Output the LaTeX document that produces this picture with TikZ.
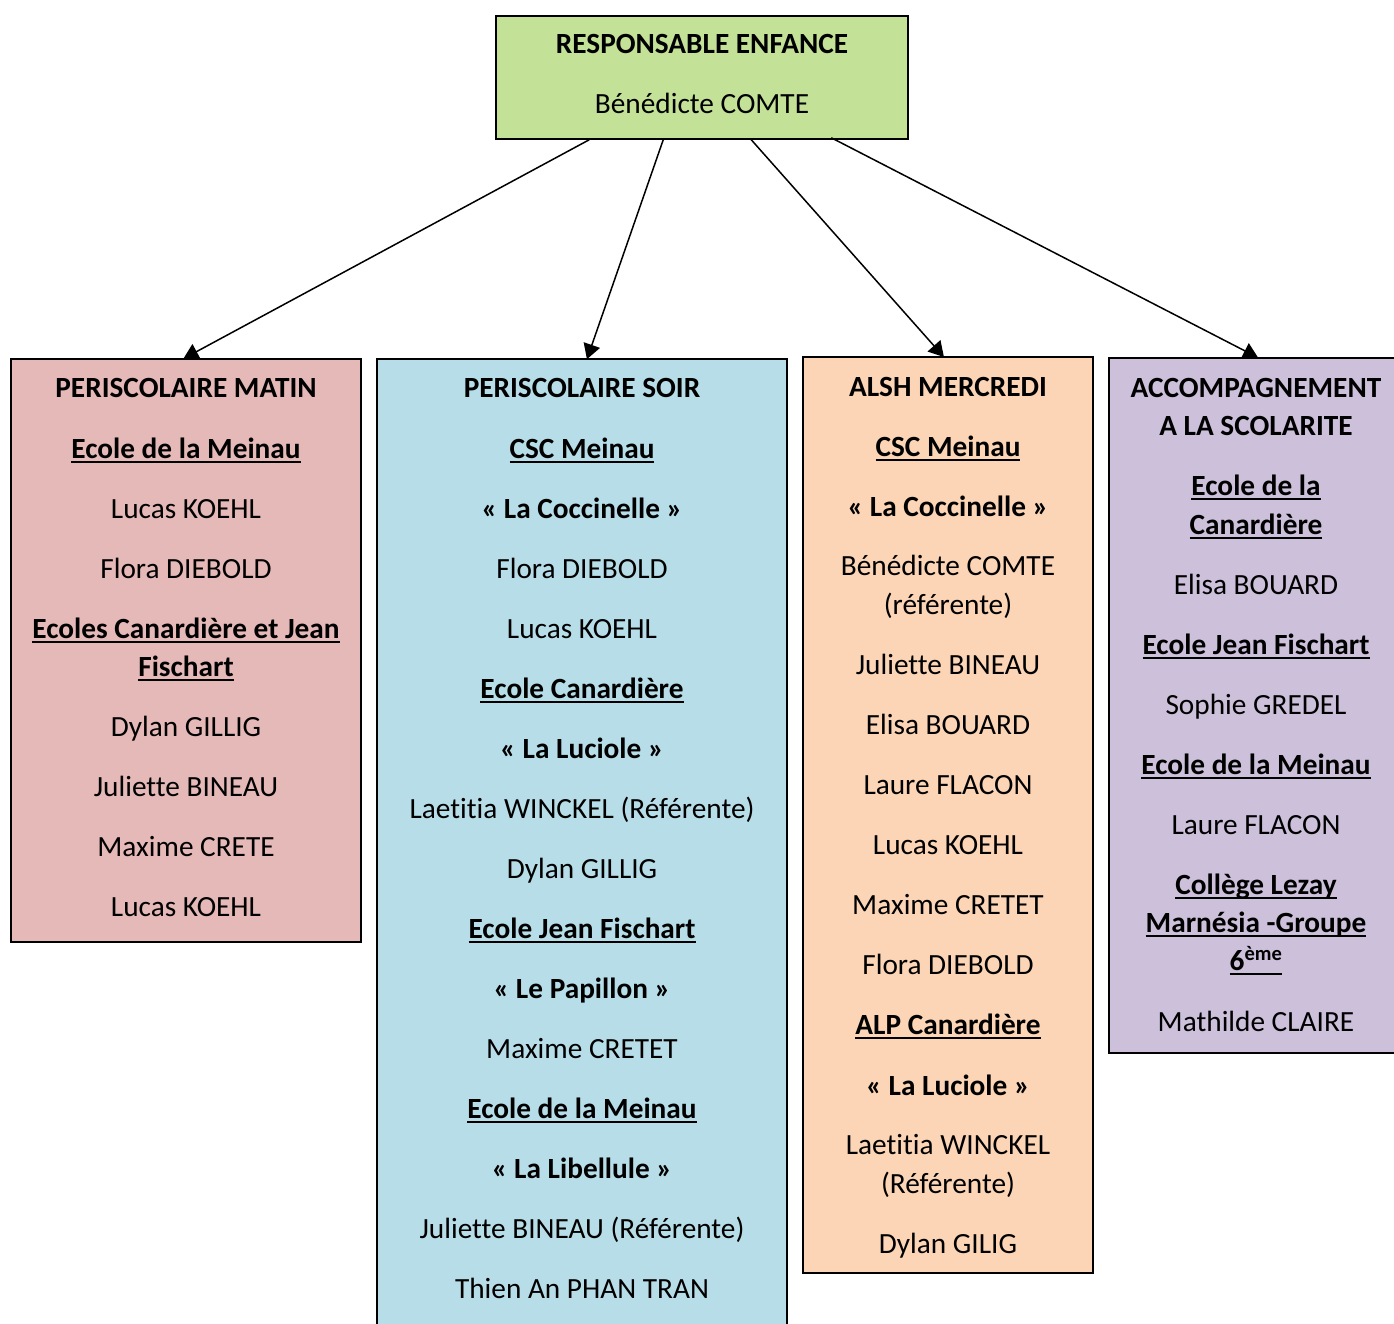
\documentclass[tikz,border=0pt]{standalone}
\usepackage{fontspec}
\setmainfont{Carlito}[Ligatures=NoCommon]
\usetikzlibrary{arrows.meta,calc}
\definecolor{cgreen}{RGB}{195,226,152}
\definecolor{cpink}{RGB}{229,185,183}
\definecolor{cblue}{RGB}{183,222,232}
\definecolor{corange}{RGB}{251,213,181}
\definecolor{cviolet}{RGB}{204,192,218}
\newcommand{\fs}{\fontsize{29.3}{34}\selectfont}
\newcommand{\bu}[1]{{\bfseries\setbox0\hbox{#1}\rlap{\rule[-4.5pt]{\wd0}{1.7pt}}\box0}}
\tikzset{
  box/.style={draw=black, line width=1.5pt, rectangle, inner sep=0pt},
  txt/.style={font=\fs, anchor=base, inner sep=0pt},
  arr/.style={line width=1.5pt, -{Triangle[length=15pt,width=17pt]}, shorten >=-1pt}
}
\begin{document}
\begin{tikzpicture}[x=1pt,y=-1pt]
\useasboundingbox (0,0) rectangle (1394,1324);
\fill[white] (0,0) rectangle (1394,1324);
% boxes
\node[box, fill=cgreen, minimum width=412pt, minimum height=123pt] (top) at (702,77.5) {};
\node[box, fill=cpink, minimum width=350pt, minimum height=583pt] (matin) at (186,650.5) {};
\node[box, fill=cblue, minimum width=410pt, minimum height=981pt] (soir) at (582,849.5) {};
\node[box, fill=corange, minimum width=290pt, minimum height=916pt] (alsh) at (948,815) {};
\node[box, fill=cviolet, minimum width=291pt, minimum height=695pt] (acc) at (1254.5,705.5) {};
% arrows
\draw[arr] ($(top.south west)+(94,0)$) -- ($(matin.north west)+(174,0)$);
\draw[arr] ($(top.south west)+(168,0)$) -- ($(soir.north west)+(211,0)$);
\draw[arr] ($(top.south west)+(256,0)$) -- ($(alsh.north west)+(141,0)$);
\draw[arr] ($(top.south west)+(336,-2)$) -- ($(acc.north west)+(149,0)$);
% top
\node[txt] (t1) at (702,54) {\textbf{RESPONSABLE ENFANCE}};
\node[txt] (t2) at (702,114) {Bénédicte COMTE};
% matin
\node[txt] (m1) at (186,397) {\textbf{PERISCOLAIRE MATIN}};
\node[txt] (m2) at (186,458) {\bu{Ecole de la Meinau}};
\node[txt] (m3) at (186,518) {Lucas KOEHL};
\node[txt] (m4) at (186,578) {Flora DIEBOLD};
\node[txt] (m5) at (186,638) {\bu{Ecoles Canardière et Jean}};
\node[txt] (m6) at (186,676) {\bu{Fischart}};
\node[txt] (m7) at (186,736) {Dylan GILLIG};
\node[txt] (m8) at (186,796) {Juliette BINEAU};
\node[txt] (m9) at (186,856) {Maxime CRETE};
\node[txt] (m10) at (186,916) {Lucas KOEHL};
% soir
\node[txt] (s1) at (582,397) {\textbf{PERISCOLAIRE SOIR}};
\node[txt] (s2) at (582,458) {\bu{CSC Meinau}};
\node[txt] (s3) at (582,518) {\textbf{« La Coccinelle »}};
\node[txt] (s4) at (582,578) {Flora DIEBOLD};
\node[txt] (s5) at (582,638) {Lucas KOEHL};
\node[txt] (s6) at (582,698) {\bu{Ecole Canardière}};
\node[txt] (s7) at (582,758) {\textbf{« La Luciole »}};
\node[txt] (s8) at (582,818) {Laetitia WINCKEL (Référente)};
\node[txt] (s9) at (582,878) {Dylan GILLIG};
\node[txt] (s10) at (582,938) {\bu{Ecole Jean Fischart}};
\node[txt] (s11) at (582,998) {\textbf{« Le Papillon »}};
\node[txt] (s12) at (582,1058) {Maxime CRETET};
\node[txt] (s13) at (582,1118) {\bu{Ecole de la Meinau}};
\node[txt] (s14) at (582,1178) {\textbf{« La Libellule »}};
\node[txt] (s15) at (582,1238) {Juliette BINEAU (Référente)};
\node[txt] (s16) at (582,1298) {Thien An PHAN TRAN};
% alsh
\node[txt] (a1) at (948,396) {\textbf{ALSH MERCREDI}};
\node[txt] (a2) at (948,456) {\bu{CSC Meinau}};
\node[txt] (a3) at (948,516) {\textbf{« La Coccinelle »}};
\node[txt] (a4) at (948,575) {Bénédicte COMTE};
\node[txt] (a5) at (948,614) {(référente)};
\node[txt] (a6) at (948,674) {Juliette BINEAU};
\node[txt] (a7) at (948,734) {Elisa BOUARD};
\node[txt] (a8) at (948,794) {Laure FLACON};
\node[txt] (a9) at (948,854) {Lucas KOEHL};
\node[txt] (a10) at (948,914) {Maxime CRETET};
\node[txt] (a11) at (948,974) {Flora DIEBOLD};
\node[txt] (a12) at (948,1034) {\bu{ALP Canardière}};
\node[txt] (a13) at (948,1095) {\textbf{« La Luciole »}};
\node[txt] (a14) at (948,1154) {Laetitia WINCKEL};
\node[txt] (a15) at (948,1193) {(Référente)};
\node[txt] (a16) at (948,1253) {Dylan GILIG};
% accompagnement
\node[txt] (c1) at (1256,397) {\textbf{ACCOMPAGNEMENT}};
\node[txt] (c2) at (1256,435) {\textbf{A LA SCOLARITE}};
\node[txt] (c3) at (1256,495) {\bu{Ecole de la}};
\node[txt] (c4) at (1256,534) {\bu{Canardière}};
\node[txt] (c5) at (1256,594) {Elisa BOUARD};
\node[txt] (c6) at (1256,654) {\bu{Ecole Jean Fischart}};
\node[txt] (c7) at (1256,714) {Sophie GREDEL};
\node[txt] (c8) at (1256,774) {\bu{Ecole de la Meinau}};
\node[txt] (c9) at (1256,834) {Laure FLACON};
\node[txt] (c10) at (1256,894) {\bu{Collège Lezay}};
\node[txt] (c11) at (1256,932) {\bu{Marnésia -Groupe}};
\node[txt] (c12) at (1256,970) {\bu{6\textsuperscript{ème}}};
\node[txt] (c13) at (1256,1031) {Mathilde CLAIRE};
\end{tikzpicture}
\end{document}
